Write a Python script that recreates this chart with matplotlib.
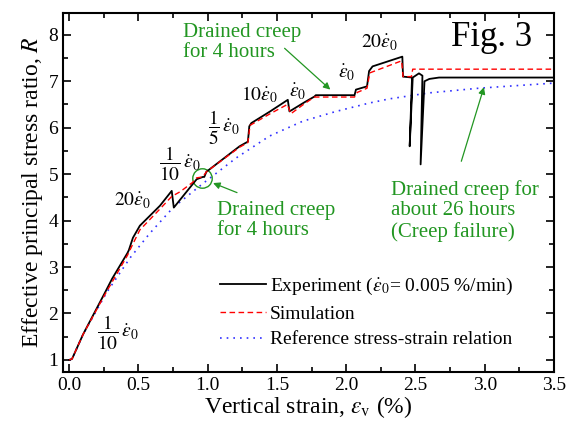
import matplotlib
matplotlib.use("Agg")
import matplotlib.pyplot as plt
from matplotlib.ticker import MultipleLocator

plt.rcParams["font.family"] = ["Liberation Serif", "DejaVu Serif"]
plt.rcParams["mathtext.fontset"] = "stix"

# experiment (drained creep dips at failure go back in strain)
exp_x = [0.0, 0.02, 0.1, 0.26, 0.31, 0.42, 0.43, 0.46, 0.51, 0.655, 0.74, 0.755,
         0.89, 0.92, 0.965, 0.975, 0.99, 1.23, 1.29, 1.30, 1.315, 1.45, 1.578, 1.59,
         1.70, 1.77, 1.78, 2.06, 2.07, 2.15, 2.165, 2.19, 2.405, 2.41, 2.475, 2.458,
         2.48, 2.525, 2.55, 2.537, 2.565, 2.60, 2.67, 3.5]
exp_y = [1.0, 1.02, 1.55, 2.46, 2.75, 3.3, 3.36, 3.63, 3.89, 4.32, 4.64, 4.28,
         4.78, 4.89, 4.94, 4.94, 5.05, 5.6, 5.7, 6.03, 6.1, 6.35, 6.6, 6.35,
         6.55, 6.67, 6.70, 6.70, 6.82, 6.89, 7.22, 7.32, 7.53, 7.10, 7.08, 5.6,
         7.08, 7.17, 7.12, 5.21, 7.0, 7.05, 7.08, 7.08]

sim_x = [0.0, 0.02, 0.1, 0.26, 0.42, 0.46, 0.51, 0.655, 0.74, 0.80, 0.89, 0.92,
         0.965, 0.99, 1.23, 1.29, 1.305, 1.45, 1.575, 1.60, 1.70, 1.77, 2.06, 2.08,
         2.15, 2.17, 2.40, 2.41, 2.47, 2.48, 3.5]
sim_y = [1.0, 1.02, 1.55, 2.42, 3.25, 3.5, 3.8, 4.25, 4.52, 4.62, 4.82, 4.92,
         4.94, 5.05, 5.58, 5.68, 6.05, 6.3, 6.5, 6.3, 6.52, 6.66, 6.66, 6.76,
         6.85, 7.18, 7.44, 7.1, 7.1, 7.26, 7.26]

ref_x = [0.0, 0.02, 0.1, 0.27, 0.44, 0.58, 0.75, 0.966, 1.206, 1.446, 1.686,
         1.926, 2.165, 2.31, 2.6, 2.957, 3.2, 3.5]
ref_y = [1.0, 1.02, 1.55, 2.45, 3.2, 3.72, 4.28, 4.8, 5.35, 5.82, 6.14,
         6.35, 6.53, 6.62, 6.75, 6.85, 6.9, 6.96]

creep_pt = (0.955, 4.92)

rate_labels = [r"$20\dot{\varepsilon}_0$", r"$\dfrac{1}{10}\,\dot{\varepsilon}_0$",
               r"$\dfrac{1}{5}\,\dot{\varepsilon}_0$", r"$10\dot{\varepsilon}_0$",
               r"$\dot{\varepsilon}_0$", r"$\dot{\varepsilon}_0$",
               r"$20\dot{\varepsilon}_0$", r"$\dfrac{1}{10}\,\dot{\varepsilon}_0$"]
rate_pos = [(0.46, 4.43), (0.80, 5.22), (1.115, 5.99), (1.374, 6.72),
            (1.65, 6.78), (2.0, 7.17), (2.24, 7.82), (0.35, 1.58)]

green = "#229622"

fig = plt.figure(figsize=(5.66, 4.23), dpi=100)
ax = fig.add_axes([0.1113, 0.1206, 0.8675, 0.8487])

ax.plot(exp_x, exp_y, color="black", lw=1.3,
        label=r"Experiment ($\dot{\varepsilon}_0$= 0.005 %/min)", zorder=3)
ax.plot(sim_x, sim_y, color="red", lw=1.0, ls=(0, (4, 2.5)), label="Simulation", zorder=4)
ax.plot(ref_x, ref_y, color="#3030ff", lw=1.2, ls=(0, (1, 3)),
        label="Reference stress-strain relation", zorder=2)

ax.plot([creep_pt[0]], [creep_pt[1]], "o", mfc="none", mec=green, ms=14, mew=1.0)

for lab, (x, y) in zip(rate_labels, rate_pos):
    ax.text(x, y, lab, fontsize=14, ha="center", va="center")

ax.text(0.872, 0.933, "Fig. 3", transform=ax.transAxes, fontsize=25,
        ha="center", va="center")

arrow = dict(arrowstyle="-|>", color=green, lw=0.9, mutation_scale=10)
ax.annotate("", xy=(1.90, 6.78), xytext=(1.54, 7.75), arrowprops=arrow)
ax.annotate("", xy=(1.02, 4.83), xytext=(1.23, 4.58), arrowprops=arrow)
ax.annotate("", xy=(3.0, 6.93), xytext=(2.825, 5.22), arrowprops=arrow)

ax.text(0.82, 7.83, "Drained creep\nfor 4 hours", color=green, fontsize=15,
        ha="left", va="center", linespacing=1.1)
ax.text(1.07, 4.0, "Drained creep\nfor 4 hours", color=green, fontsize=15,
        ha="left", va="center", linespacing=1.1)
ax.text(2.32, 4.21, "Drained creep for\nabout 26 hours\n(Creep failure)", color=green,
        fontsize=15, ha="left", va="center", linespacing=1.1)

ax.set_xlim(-0.045, 3.5)
ax.set_ylim(0.74, 8.47)
ax.xaxis.set_major_locator(MultipleLocator(0.5))
ax.xaxis.set_minor_locator(MultipleLocator(0.25))
ax.yaxis.set_major_locator(MultipleLocator(1))
ax.yaxis.set_minor_locator(MultipleLocator(0.5))
ax.xaxis.set_major_formatter(plt.FuncFormatter(lambda v, p: "%.1f" % v))
ax.tick_params(which="both", direction="in", top=True, right=True, labelsize=14, width=1.2)
ax.tick_params(which="major", length=6)
ax.tick_params(which="minor", length=3.5)
for s in ax.spines.values():
    s.set_linewidth(1.5)

ax.set_xlabel(r"Vertical strain, $\varepsilon_{\mathrm{v}}$ (%)", fontsize=17, labelpad=0)
ax.set_ylabel(r"Effective principal stress ratio, $R$", fontsize=17, labelpad=2)

ax.legend(loc="upper left", bbox_to_anchor=(0.30, 0.295), frameon=False, fontsize=14,
          handlelength=2.37, handletextpad=0.2, labelspacing=0.42, borderpad=0)

fig.savefig("out.png", dpi=100)
